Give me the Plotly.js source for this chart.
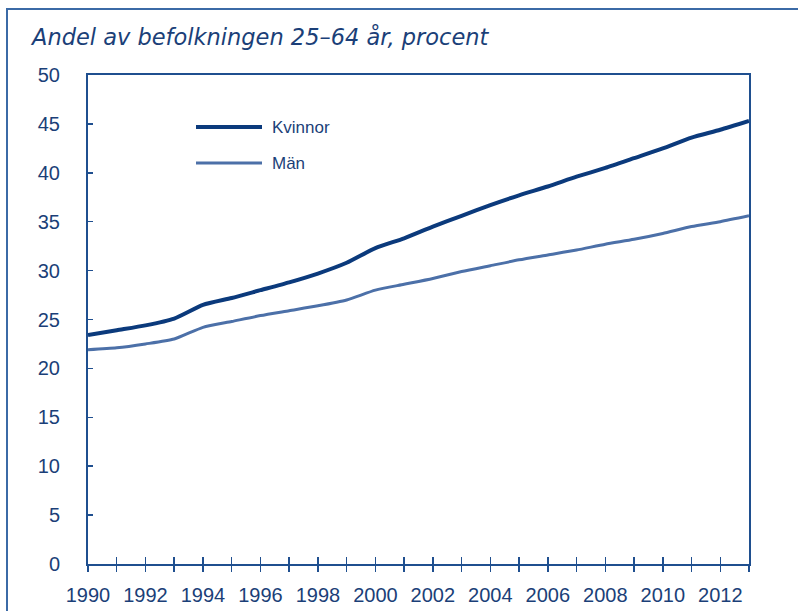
<!DOCTYPE html>
<html>
<head>
<meta charset="utf-8">
<script src="https://cdn.plot.ly/plotly-3.0.1.min.js"></script>
<style>
  html, body { margin: 0; padding: 0; background: #fff; }
  #frame { position: absolute; left: 6px; top: 8px; width: 800px; height: 610px;
           border-top: 2px solid #3b6aa6; border-left: 2px solid #3b6aa6; }
  #chart { position: absolute; left: 0; top: 0; width: 798px; height: 611px; }
</style>
</head>
<body>
<div id="frame"></div>
<div id="chart"></div>
<script>
const years = [1990,1991,1992,1993,1994,1995,1996,1997,1998,1999,2000,2001,2002,2003,2004,2005,2006,2007,2008,2009,2010,2011,2012,2013];
const kvinnor = [23.4,23.9,24.4,25.1,26.5,27.2,28.0,28.8,29.7,30.8,32.3,33.3,34.5,35.6,36.7,37.7,38.6,39.6,40.5,41.5,42.5,43.6,44.4,45.3];
const man = [21.9,22.1,22.5,23.0,24.2,24.8,25.4,25.9,26.4,27.0,28.0,28.6,29.2,29.9,30.5,31.1,31.6,32.1,32.7,33.2,33.8,34.5,35.0,35.6];
const xTickLabels = ['1990','','1992','','1994','','1996','','1998','','2000','','2002','','2004','','2006','','2008','','2010','','2012',''];
const yTicks = [0,5,10,15,20,25,30,35,40,45,50];
const seriesNames = ['Kvinnor','Män'];
const titleText = 'Andel av befolkningen 25–64 år, procent';

const axisColor = '#1f4f8f';
const textColor = '#1b3f78';
const tickFont = {family: '"Liberation Sans", Arial, sans-serif', size: 20, color: textColor};

const traces = [
  {x: years, y: kvinnor, name: seriesNames[0], type: 'scatter', mode: 'lines',
   line: {color: '#0b3a7c', width: 4, shape: 'spline', smoothing: 0.6}, showlegend: false},
  {x: years, y: man, name: seriesNames[1], type: 'scatter', mode: 'lines',
   line: {color: '#4c70a8', width: 3, shape: 'spline', smoothing: 0.6}, showlegend: false},
  {x: [years[0]], y: [0], xaxis: 'x2', yaxis: 'y', mode: 'markers', marker: {opacity: 0}, showlegend: false, hoverinfo: 'skip'}
];

const layout = {
  width: 798, height: 611,
  paper_bgcolor: 'rgba(0,0,0,0)', plot_bgcolor: 'rgba(0,0,0,0)',
  margin: {l: 88, r: 49, t: 75, b: 47},
  title: {text: titleText, x: 32/798, xanchor: 'left', y: 1 - 37/611, yanchor: 'middle',
          font: {family: '"DejaVu Sans", sans-serif', size: 22.5, color: textColor, style: 'italic'}},
  xaxis: {range: [1990, 2013], tickmode: 'array', tickvals: years, ticktext: xTickLabels,
          ticks: 'inside', ticklen: 7, tickwidth: 1.5, tickcolor: axisColor,
          showline: true, linecolor: axisColor, linewidth: 2, mirror: true,
          showgrid: false, zeroline: false, tickfont: tickFont, ticklabelstandoff: 12,
          fixedrange: true},
  xaxis2: {range: [1990, 2013], overlaying: 'x', side: 'bottom', anchor: 'y',
           tickmode: 'array', tickvals: years, ticks: 'outside', ticklen: 7, tickwidth: 1.5,
           tickcolor: axisColor, showticklabels: false, showline: false, showgrid: false, zeroline: false},
  yaxis: {range: [0, 50], tickmode: 'array', tickvals: yTicks,
          ticks: 'inside', ticklen: 5, tickwidth: 1.5, tickcolor: axisColor,
          showline: true, linecolor: axisColor, linewidth: 2, mirror: true,
          showgrid: false, zeroline: false, tickfont: tickFont, ticklabelstandoff: 22,
          fixedrange: true},
  shapes: [
    {type: 'line', xref: 'paper', yref: 'paper', x0: (196-88)/661, x1: (262-88)/661,
     y0: (564-127)/489, y1: (564-127)/489, line: {color: '#0b3a7c', width: 4}},
    {type: 'line', xref: 'paper', yref: 'paper', x0: (196-88)/661, x1: (262-88)/661,
     y0: (564-163)/489, y1: (564-163)/489, line: {color: '#4c70a8', width: 3}}
  ],
  annotations: [
    {text: seriesNames[0], xref: 'paper', yref: 'paper', x: (270-88)/661, y: (564-128)/489,
     xanchor: 'left', yanchor: 'middle', showarrow: false,
     font: {family: '"Liberation Sans", Arial, sans-serif', size: 17, color: textColor}},
    {text: seriesNames[1], xref: 'paper', yref: 'paper', x: (270-88)/661, y: (564-163)/489,
     xanchor: 'left', yanchor: 'middle', showarrow: false,
     font: {family: '"Liberation Sans", Arial, sans-serif', size: 17, color: textColor}}
  ]
};

Plotly.newPlot('chart', traces, layout, {displayModeBar: false, staticPlot: true});
</script>
</body>
</html>
